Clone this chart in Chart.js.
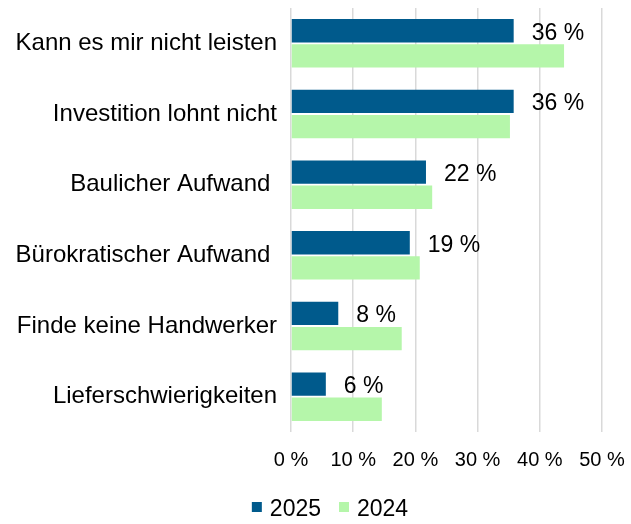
<!DOCTYPE html>
<html>
<head>
<meta charset="utf-8">
<script src="https://cdn.jsdelivr.net/npm/chart.js@4/dist/chart.umd.min.js"></script>
<style>
  html, body { margin: 0; padding: 0; background: #ffffff; }
  #wrap { width: 631px; height: 524px; position: relative; }
</style>
</head>
<body>
<div id="wrap"><canvas id="c" width="631" height="524"></canvas></div>
<script>
const categories = [
  "Kann es mir nicht leisten",
  "Investition lohnt nicht",
  "Baulicher Aufwand ",
  "Bürokratischer Aufwand ",
  "Finde keine Handwerker",
  "Lieferschwierigkeiten"
];
const seriesNames = ["2025", "2024"];
const values2025 = [35.8, 35.8, 21.7, 19.1, 7.6, 5.6];
const values2024 = [43.9, 35.2, 22.7, 20.7, 17.8, 14.6];
const tickValues = [0, 10, 20, 30, 40, 50];
const tickSuffix = " %";

const FONT = "'Liberation Sans', Arial, sans-serif";
const COLORS = ["#005A8C", "#B5F6AA"];

const valueLabels = {
  id: 'valueLabels',
  afterDatasetsDraw(chart) {
    const ctx = chart.ctx;
    const meta = chart.getDatasetMeta(0);
    ctx.save();
    ctx.font = "23px " + FONT;
    ctx.fillStyle = "#000000";
    ctx.textAlign = "left";
    ctx.textBaseline = "alphabetic";
    meta.data.forEach((el, i) => {
      const v = chart.data.datasets[0].data[i];
      ctx.fillText(Math.round(v) + tickSuffix, el.x + 18, el.y + 9);
    });
    ctx.restore();
  }
};

const customLegend = {
  id: 'customLegend',
  afterDraw(chart) {
    const ctx = chart.ctx;
    ctx.save();
    ctx.font = "23px " + FONT;
    const box = 10, gap = 8, itemGap = 18;
    const items = chart.data.datasets.map((d, i) => ({ text: d.label, color: d.backgroundColor, w: ctx.measureText(d.label).width }));
    let total = 0;
    items.forEach((it, i) => { total += box + gap + it.w + (i < items.length - 1 ? itemGap : 0); });
    let x = 330 - total / 2;
    const baseY = 516;
    items.forEach((it) => {
      ctx.fillStyle = it.color;
      ctx.fillRect(x, 502, box, box);
      x += box + gap;
      ctx.fillStyle = "#000000";
      ctx.textAlign = "left";
      ctx.textBaseline = "alphabetic";
      ctx.fillText(it.text, x, baseY);
      x += it.w + itemGap;
    });
    ctx.restore();
  }
};

new Chart(document.getElementById('c'), {
  type: 'bar',
  data: {
    labels: categories,
    datasets: [
      { label: seriesNames[0], data: values2025, backgroundColor: COLORS[0], categoryPercentage: 0.71, barPercentage: 0.93 },
      { label: seriesNames[1], data: values2024, backgroundColor: COLORS[1], categoryPercentage: 0.71, barPercentage: 0.93 }
    ]
  },
  options: {
    indexAxis: 'y',
    responsive: false,
    maintainAspectRatio: false,
    animation: false,
    devicePixelRatio: 1,
    layout: { padding: { top: 8, right: 29, left: 0, bottom: 50 } },
    plugins: {
      legend: { display: false },
      tooltip: { enabled: false }
    },
    scales: {
      x: {
        min: tickValues[0],
        max: tickValues[tickValues.length - 1],
        afterBuildTicks(s) { s.ticks = tickValues.map(v => ({ value: v })); },
        afterFit(s) { s.height = 42; s.paddingLeft = 0; s.paddingRight = 0; },
        grid: { color: '#d9d9d9', lineWidth: 1.5, drawTicks: false },
        border: { display: false },
        ticks: {
          padding: 16,
          color: '#000000',
          font: { family: FONT, size: 20 },
          callback: (v) => v + tickSuffix,
          maxRotation: 0
        }
      },
      y: {
        afterFit(s) { s.width = 291; s.paddingTop = 0; s.paddingBottom = 0; },
        grid: { display: false, drawTicks: false },
        border: { display: false },
        ticks: {
          padding: 14,
          color: '#000000',
          font: { family: FONT, size: 24 },
          autoSkip: false
        }
      }
    }
  },
  plugins: [valueLabels, customLegend]
});
</script>
</body>
</html>
